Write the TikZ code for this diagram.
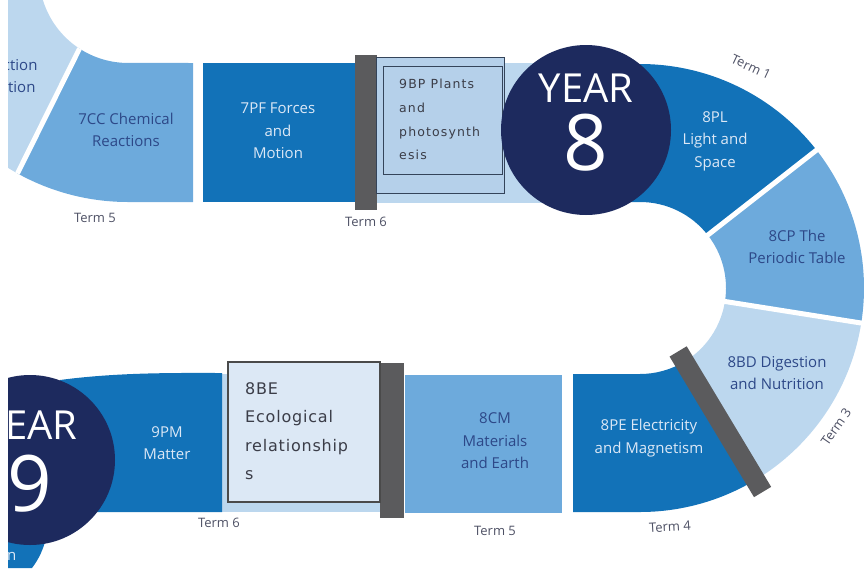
\documentclass[tikz,border=0pt]{standalone}
\usepackage{fontspec}
\setmainfont{Open Sans}
\newfontfamily\boxfont[LetterSpace=9]{DejaVu Sans}
\newfontfamily\ecofont[LetterSpace=5]{DejaVu Sans}
\definecolor{navy}{HTML}{1D2A5E}
\definecolor{dblue}{HTML}{1272B8}
\definecolor{mblue}{HTML}{6DAADC}
\definecolor{lblue}{HTML}{BCD7EE}
\definecolor{bar}{HTML}{5B5B5D}
\definecolor{pale}{HTML}{DCE8F5}
\definecolor{boxblue}{HTML}{B5D0EA}
\definecolor{boxline}{HTML}{34445A}
\definecolor{boxedge}{HTML}{4A4A4A}
\definecolor{ink}{HTML}{2D4888}
\definecolor{paletext}{HTML}{DCE8F6}
\definecolor{termc}{HTML}{4D5064}
\definecolor{boxink}{HTML}{3B3D48}
\tikzset{
  lbl/.style={align=center, font=\fontsize{15}{22.5}\selectfont},
  ondark/.style={lbl, text=paletext},
  onlight/.style={lbl, text=ink},
  term/.style={font=\fontsize{13}{15}\selectfont, text=termc},
  gap/.style={draw=white, line width=5pt},
  yearc/.style={circle, fill=navy, minimum size=170pt, inner sep=0pt},
  yeartxt/.style={text=white, font=\fontsize{40}{40}\selectfont},
  yearnum/.style={text=white, font=\fontsize{78}{78}\selectfont},
  boxtxt/.style={align=left, anchor=north west, text=boxink, inner sep=0pt},
}
\begin{document}
\begin{tikzpicture}[x=1pt,y=1pt]
\useasboundingbox (0,0) rectangle (864,-568);
\clip (8,0) rectangle (864,-568);
\coordinate (L) at (128,26);
\coordinate (C) at (640,-288);
\coordinate (g1) at (79.5,-48.6);
\coordinate (g2) at (17.5,-173.4);
% top row
\fill[lblue] (L) ++(170:89) arc[start angle=170,end angle=237,radius=89] -- (g2) arc[start angle=241,end angle=170,radius=228] -- cycle;
\fill[mblue] (g1) arc[start angle=237,end angle=270,radius=89] -- (193,-63) -- (193,-202) -- (128,-202) arc[start angle=270,end angle=241,radius=228] -- cycle;
\draw[gap] (g1) -- (g2);
\fill[dblue] (203,-63) rectangle (356,-202);
\fill[lblue] (377,-63) rectangle (610,-203);
\fill[bar] (355,-55) rectangle (377,-210);
\draw[fill=boxblue, draw=boxline, line width=1pt] (376,-57) rectangle (504,-193);
\draw[fill=boxblue, draw=boxline, line width=1pt] (383,-66) rectangle (502,-174);
% the turn
\fill[dblue] (600,-64) -- (640,-64) arc[start angle=90,end angle=38,radius=224] -- ++(218:138) arc[start angle=38,end angle=90,radius=86] -- (600,-202) -- cycle;
\fill[mblue] (C) ++(38:224) arc[start angle=38,end angle=-9,radius=224] -- ++(171:138) arc[start angle=-9,end angle=38,radius=86] -- cycle;
\fill[lblue] (C) ++(-9:224) arc[start angle=-9,end angle=-59,radius=224] -- ++(121:138) arc[start angle=-59,end angle=-9,radius=86] -- cycle;
\fill[dblue] (C) ++(-59:224) arc[start angle=-59,end angle=-90,radius=224] -- (573,-512) -- (573,-374) -- (640,-374) arc[start angle=-90,end angle=-59,radius=86] -- cycle;
\draw[gap] (C) ++(38:80) -- ++(38:160);
\draw[gap] (C) ++(-9:80) -- ++(-9:160);
\draw[bar, line width=20pt] (C) ++(-59:74) -- ++(-59:164);
% bottom row
\fill[mblue] (405,-375) rectangle (562,-513);
\fill[lblue] (222,-374) rectangle (381,-512);
\fill[bar] (380,-363) rectangle (404,-518);
\draw[fill=pale, draw=boxedge, line width=1.2pt] (228,-362) rectangle (380,-502);
\fill[dblue] (60,-380) .. controls (120,-372) and (180,-373) .. (222,-373) -- (222,-512) -- (60,-512) -- cycle;
\fill[dblue] (8,-530) -- (48,-530) .. controls (44,-550) and (38,-560) .. (32,-568) -- (8,-568) -- cycle;
\node[yearc] (y8) at (586,-130) {};
\node[yearc] (y9) at (30,-460) {};
\node[yeartxt] (y8a) at (586,-88) {YEAR};
\node[yearnum] (y8b) at (586,-143) {8};
\node[yeartxt] (y9a) at (30,-425) {YEAR};
\node[yearnum] (y9b) at (30,-484) {9};
% labels
\node[onlight, anchor=east] (rx1) at (41,-65) {ction};
\node[onlight, anchor=east] (rx2) at (39,-87) {ition};
\node[onlight] (cc) at (126,-130) {7CC Chemical\\Reactions};
\node[ondark] (pf) at (278,-131) {7PF Forces\\and\\Motion};
\node[boxtxt, font=\boxfont\fontsize{12.5}{23.7}\selectfont] (bp) at (399,-79) {9BP Plants\\and\\photosynth\\esis};
\node[ondark] (pl) at (715,-141) {8PL\\Light and\\Space};
\node[onlight] (cp) at (797,-247) {8CP The\\Periodic Table};
\node[onlight] (bd) at (777,-373) {8BD Digestion\\and Nutrition};
\node[ondark] (pe) at (649,-438) {8PE Electricity\\and Magnetism};
\node[onlight] (cm) at (495,-441) {8CM\\Materials\\and Earth};
\node[boxtxt, font=\ecofont\fontsize{16}{28.5}\selectfont] (be) at (245,-382) {8BE\\Ecological\\relationship\\s};
\node[ondark] (pm) at (167,-443) {9PM\\Matter};
\node[ondark, anchor=west, inner sep=0pt] (n1) at (7,-556) {n};
\node[term] (t5a) at (95,-218) {Term 5};
\node[term] (t6a) at (366,-222) {Term 6};
\node[term, rotate=-25] (t1) at (751,-67) {Term 1};
\node[term, rotate=55] (t3) at (836,-427) {Term 3};
\node[term, rotate=3] (t4) at (670,-527) {Term 4};
\node[term] (t5b) at (495,-531) {Term 5};
\node[term] (t6b) at (219,-523) {Term 6};
\end{tikzpicture}
\end{document}
